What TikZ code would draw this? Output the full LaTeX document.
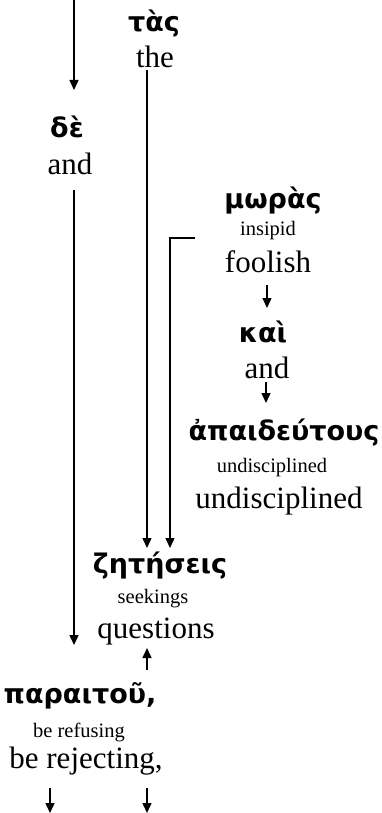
\documentclass[tikz,border=0pt]{standalone}
\usepackage{fontspec}
\setmainfont{Liberation Serif}
\newfontfamily\grk{DejaVu Sans}
\usetikzlibrary{arrows.meta}
\tikzset{
  grw/.style={anchor=base, inner sep=0pt, font=\grk\bfseries\fontsize{27}{27}\selectfont},
  lit/.style={anchor=base, inner sep=0pt, font=\fontsize{20.5}{20.5}\selectfont},
  eng/.style={anchor=base, inner sep=0pt, font=\fontsize{31}{31}\selectfont},
  arr/.style={line width=1.4pt, -{Triangle[width=9pt,length=10pt]}},
  ln/.style={line width=1.4pt}
}
\begin{document}
\begin{tikzpicture}[x=1pt,y=-1pt]
\useasboundingbox (0,0) rectangle (381,813);
% words
\node[grw] (tas) at (154,32) {τὰς};
\node[eng] (the) at (155,68) {the};
\node[grw] (de) at (67,138) {δὲ};
\node[eng] (and1) at (70,175) {and};
\node[grw] (moras) at (273,208) {μωρὰς};
\node[lit] (insipid) at (268,235) {insipid};
\node[eng] (foolish) at (268,272) {foolish};
\node[grw] (kai) at (263,342) {καὶ};
\node[eng] (and2) at (267,378) {and};
\node[grw] (apaid) at (284,440) {ἀπαιδεύτους};
\node[lit] (undl) at (272,472) {undisciplined};
\node[eng] (unde) at (279,508) {undisciplined};
\node[grw] (zet) at (160,573) {ζητήσεις};
\node[lit] (seek) at (153,603) {seekings};
\node[eng] (quest) at (156,638) {questions};
\node[grw] (para) at (80,703) {παραιτοῦ,};
\node[lit] (refus) at (79,737) {be refusing};
\node[eng] (reject) at (86,768) {be rejecting,};
% free ends
\coordinate (topin) at (74,0);
\coordinate (deIn) at (74,90);
\coordinate (deOut) at (74,190);
\coordinate (paraIn) at (74,645);
\coordinate (theOut) at (147,70);
\coordinate (zetInA) at (147,548);
\coordinate (brk) at (195,238);
\coordinate (brkCorner) at (170,238);
\coordinate (zetInB) at (170,548);
\coordinate (foolOut) at (267,285);
\coordinate (kaiIn) at (267,308);
\coordinate (andOut) at (266,382);
\coordinate (apaidIn) at (266,403);
\coordinate (paraOut) at (147,670);
\coordinate (questIn) at (147,648);
\coordinate (outA) at (50,788);
\coordinate (outAend) at (50,813);
\coordinate (outB) at (147,788);
\coordinate (outBend) at (147,813);
% connectors
\draw[arr] (topin) -- (deIn);
\draw[arr] (deOut) -- (paraIn);
\draw[arr] (theOut) -- (zetInA);
\draw[arr] (brk) -- (brkCorner) -- (zetInB);
\draw[arr] (foolOut) -- (kaiIn);
\draw[arr] (andOut) -- (apaidIn);
\draw[arr] (paraOut) -- (questIn);
\draw[arr] (outA) -- (outAend);
\draw[arr] (outB) -- (outBend);
\end{tikzpicture}
\end{document}
